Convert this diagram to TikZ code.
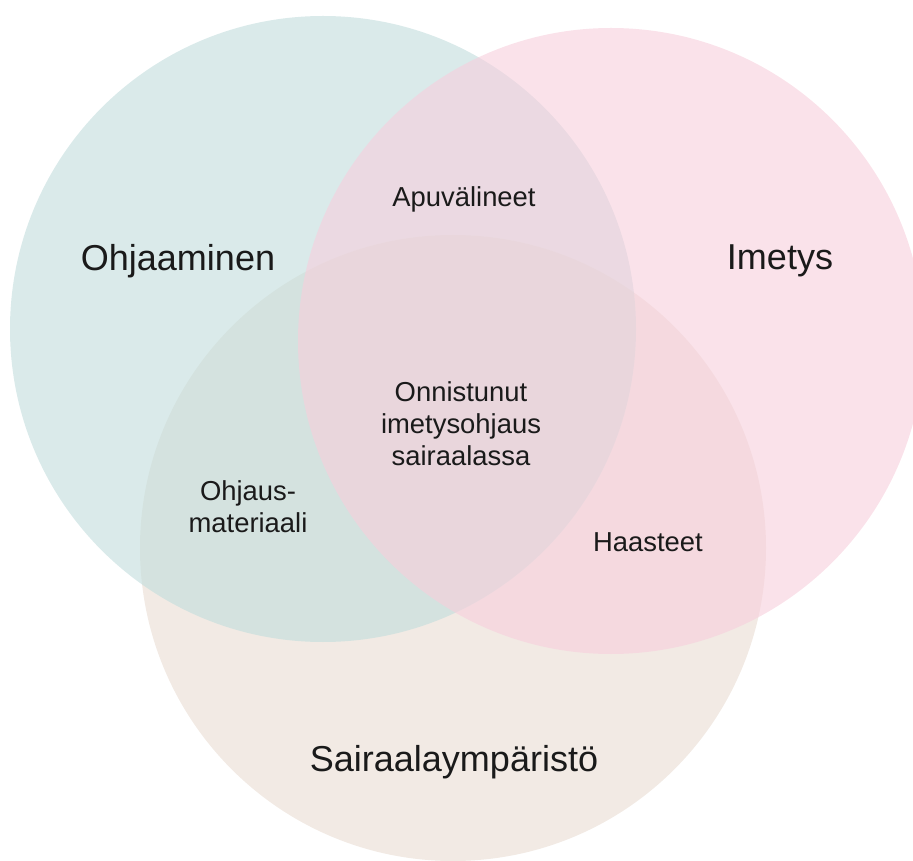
\documentclass[tikz,border=0pt]{standalone}
\usepackage{fontspec}
\setmainfont{Liberation Sans}
\usepackage{xcolor}
\usetikzlibrary{math}
\definecolor{myteal}{RGB}{193,220,220}
\definecolor{mypink}{RGB}{247,207,220}
\definecolor{mybeige}{RGB}{233,220,210}
\definecolor{mytext}{RGB}{26,26,26}

\begin{document}
\begin{tikzpicture}[x=0.02cm,y=-0.02cm,
  disc/.style={fill opacity=0.6},
  biglabel/.style={font=\fontsize{20.5}{24}\selectfont, text=mytext},
  smalllabel/.style={font=\fontsize{15.6}{18.2}\selectfont, text=mytext, align=center}]
\tikzmath{
\R=313;
}

\clip (0,0) rectangle (913,861);
\coordinate (T) at (323,329);
\coordinate (P) at (611,341);
\coordinate (B) at (453,548);

 \fill[disc, color=mybeige] (B) circle[radius=\R];
 \fill[disc, color=myteal] (T) circle[radius=\R];
 \fill[disc, color=mypink] (P) circle[radius=\R];

 \node[biglabel] (ohj) at (178,261) {Ohjaaminen};
 \node[biglabel] (ime) at (780,261) {Imetys};
 \node[biglabel] (sai) at (454,762) {Sairaalaympäristö};

 \node[smalllabel] (apu) at (464,199) {Apuvälineet};
 \node[smalllabel] (onn) at (461,424) {Onnistunut\\imetysohjaus\\sairaalassa};
 \node[smalllabel] (mat) at (248,507) {Ohjaus-\\materiaali};
 \node[smalllabel] (haa) at (648,542) {Haasteet};
\end{tikzpicture}
\end{document}
